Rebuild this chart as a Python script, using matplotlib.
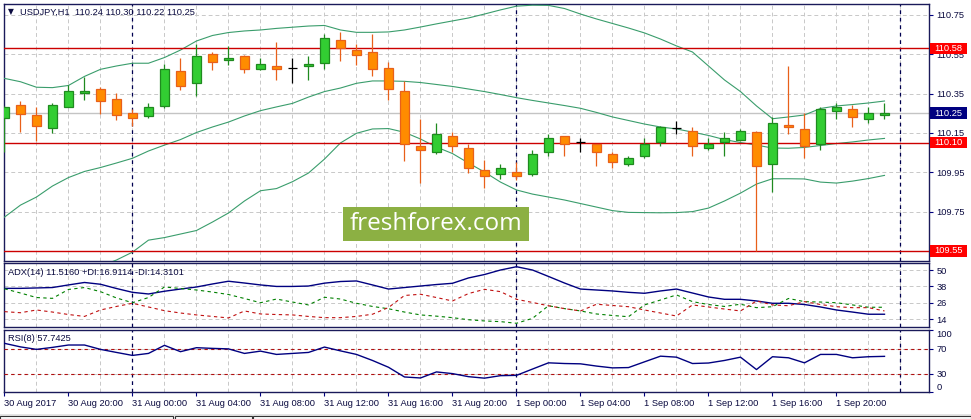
import numpy as np
import matplotlib
matplotlib.use("Agg")
import matplotlib.pyplot as plt
import matplotlib.transforms as mtransforms
from matplotlib.patches import Rectangle

plt.rcParams['font.family'] = ['Liberation Sans', 'DejaVu Sans']

# USDJPY H1 bars, 30 Aug 16:00 .. 1 Sep 23:00
opens = [110.227, 110.290, 110.239, 110.176, 110.280, 110.351, 110.372, 110.321, 110.250, 110.237,
         110.288, 110.463, 110.402, 110.551, 110.519, 110.541, 110.476, 110.490, 110.478, 110.488,
         110.507, 110.621, 110.570, 110.560, 110.478, 110.363, 110.082, 110.051, 110.133, 110.072,
         109.960, 109.939, 109.950, 109.939, 110.051, 110.133, 110.102, 110.092, 110.041, 109.990,
         110.031, 110.102, 110.173, 110.158, 110.072, 110.102, 110.112, 110.153, 109.990, 110.189,
         110.168, 110.092, 110.260, 110.270, 110.219, 110.240]
highs = [110.285, 110.312, 110.280, 110.302, 110.392, 110.436, 110.383, 110.351, 110.270, 110.300,
         110.500, 110.529, 110.602, 110.560, 110.592, 110.545, 110.532, 110.612, 110.532, 110.542,
         110.653, 110.663, 110.600, 110.653, 110.509, 110.412, 110.220, 110.199, 110.153, 110.092,
         110.011, 109.990, 110.000, 110.061, 110.143, 110.135, 110.122, 110.095, 110.051, 110.031,
         110.122, 110.183, 110.210, 110.178, 110.122, 110.153, 110.168, 110.158, 110.229, 110.488,
         110.250, 110.280, 110.300, 110.290, 110.280, 110.300]
lows = [110.053, 110.156, 110.110, 110.151, 110.280, 110.317, 110.247, 110.217, 110.187, 110.227,
        110.278, 110.370, 110.339, 110.471, 110.497, 110.453, 110.471, 110.419, 110.402, 110.419,
        110.476, 110.517, 110.497, 110.440, 110.317, 110.009, 109.897, 110.041, 110.051, 109.948,
        109.868, 109.917, 109.909, 109.929, 110.031, 110.031, 110.051, 109.980, 109.970, 109.980,
        110.021, 110.082, 110.143, 110.031, 110.061, 110.031, 110.107, 109.550, 109.848, 110.143,
        110.021, 110.061, 110.219, 110.178, 110.199, 110.220]
closes = [110.280, 110.248, 110.187, 110.290, 110.361, 110.363, 110.310, 110.239, 110.227, 110.280,
          110.473, 110.390, 110.539, 110.509, 110.529, 110.473, 110.499, 110.473, 110.478, 110.500,
          110.632, 110.580, 110.547, 110.473, 110.372, 110.092, 110.061, 110.143, 110.082, 109.970,
          109.929, 109.970, 109.929, 110.041, 110.122, 110.092, 110.102, 110.051, 110.000, 110.021,
          110.092, 110.180, 110.173, 110.082, 110.092, 110.122, 110.158, 109.980, 110.199, 110.178,
          110.082, 110.270, 110.280, 110.229, 110.250, 110.250]

# Bollinger bands
bb_upper = [110.427, 110.410, 110.382, 110.380, 110.391, 110.437, 110.473, 110.490, 110.504, 110.504,
            110.533, 110.571, 110.617, 110.645, 110.660, 110.668, 110.673, 110.681, 110.687, 110.693,
            110.696, 110.673, 110.661, 110.661, 110.663, 110.673, 110.688, 110.704, 110.719, 110.734,
            110.754, 110.775, 110.794, 110.799, 110.798, 110.782, 110.754, 110.729, 110.706, 110.683,
            110.658, 110.627, 110.592, 110.561, 110.490, 110.419, 110.360, 110.287, 110.222, 110.231,
            110.241, 110.274, 110.287, 110.294, 110.302, 110.312]
bb_middle = [109.722, 109.783, 109.824, 109.880, 109.923, 109.954, 109.974, 109.997, 110.021, 110.058,
             110.088, 110.116, 110.152, 110.180, 110.205, 110.236, 110.263, 110.282, 110.300, 110.332,
             110.360, 110.378, 110.402, 110.414, 110.414, 110.412, 110.406, 110.396, 110.386, 110.373,
             110.360, 110.345, 110.329, 110.315, 110.302, 110.289, 110.275, 110.254, 110.231, 110.213,
             110.195, 110.180, 110.170, 110.154, 110.137, 110.116, 110.101, 110.088, 110.073, 110.072,
             110.076, 110.086, 110.096, 110.104, 110.114, 110.122]
bb_lower = [109.021, 109.158, 109.265, 109.377, 109.453, 109.473, 109.473, 109.504, 109.544, 109.605,
            109.618, 109.636, 109.654, 109.697, 109.743, 109.804, 109.856, 109.867, 109.902, 109.946,
            110.017, 110.099, 110.148, 110.170, 110.172, 110.153, 110.119, 110.078, 110.045, 109.997,
            109.951, 109.900, 109.860, 109.839, 109.824, 109.809, 109.791, 109.773, 109.755, 109.746,
            109.745, 109.744, 109.745, 109.750, 109.768, 109.804, 109.844, 109.890, 109.917, 109.917,
            109.916, 109.900, 109.895, 109.905, 109.918, 109.934]

# ADX(14)
adx = [36.6, 36.6, 36.9, 37.2, 39.1, 40.9, 39.6, 36.5, 33.7, 32.5,
       34.5, 36.1, 37.6, 39.8, 41.8, 40.5, 39.1, 38.0, 38.0, 38.3,
       40.4, 41.6, 42.0, 39.1, 36.1, 37.2, 38.3, 39.4, 40.3, 44.2,
       46.7, 50.0, 52.4, 50.0, 45.3, 40.5, 36.1, 35.4, 34.7, 33.7,
       33.0, 34.7, 36.1, 33.2, 30.3, 28.6, 28.6, 27.4, 25.7, 25.7,
       24.8, 23.0, 20.8, 19.3, 17.7, 17.7]
plus_di = [36.3, 33.2, 29.9, 29.3, 35.8, 37.2, 34.2, 29.6, 26.1, 29.9,
           37.6, 36.5, 35.4, 33.9, 32.1, 29.2, 26.1, 28.8, 26.6, 24.5,
           30.1, 28.8, 25.7, 23.4, 21.7, 19.3, 17.2, 16.3, 15.2, 13.7,
           12.8, 12.3, 11.1, 14.7, 23.9, 21.8, 20.1, 17.9, 16.8, 15.9,
           24.5, 28.1, 31.8, 26.9, 24.8, 23.4, 25.0, 22.5, 23.2, 29.2,
           26.9, 26.6, 26.1, 24.5, 22.8, 22.8]
minus_di = [19.6, 18.8, 20.8, 19.3, 17.5, 16.1, 20.8, 23.4, 25.7, 23.0,
            20.3, 18.6, 17.2, 16.1, 15.0, 20.1, 17.9, 17.5, 17.2, 16.1,
            15.2, 15.2, 16.1, 17.7, 22.6, 31.4, 32.3, 29.9, 27.4, 32.8,
            35.9, 34.2, 28.6, 26.3, 23.9, 21.8, 20.1, 25.0, 24.1, 23.2,
            20.8, 18.6, 16.4, 24.5, 23.0, 21.5, 20.1, 27.4, 24.5, 23.9,
            26.9, 24.8, 23.2, 22.5, 22.5, 20.1]

# RSI(8)
rsi = [78.6, 72.9, 68.9, 72.1, 75.9, 75.9, 68.9, 64.0, 59.2, 62.4,
       75.4, 65.2, 71.6, 70.5, 69.7, 62.4, 66.1, 60.8, 62.4, 64.0,
       72.6, 66.5, 60.8, 51.1, 40.2, 24.6, 23.0, 32.7, 30.0, 25.1,
       22.7, 26.7, 27.2, 37.3, 47.3, 46.2, 45.7, 42.1, 39.2, 39.7,
       48.9, 58.0, 56.4, 46.2, 47.0, 51.1, 56.4, 36.5, 57.1, 55.4,
       47.3, 60.8, 60.8, 55.4, 57.1, 57.7]

time_labels = ["30 Aug 2017", "30 Aug 20:00", "31 Aug 00:00", "31 Aug 04:00", "31 Aug 08:00",
               "31 Aug 12:00", "31 Aug 16:00", "31 Aug 20:00", "1 Sep 00:00", "1 Sep 04:00",
               "1 Sep 08:00", "1 Sep 12:00", "1 Sep 16:00", "1 Sep 20:00"]
day_starts = [8, 32, 56]          # bar index of each midnight
price_ticks = [109.75, 109.95, 110.15, 110.35, 110.55, 110.75]
levels = [110.58, 110.10, 109.55]
last_price = 110.25
adx_ticks = [14, 26, 38, 50]
rsi_levels = [30, 70]

W, H = 971, 419
NAVY = '#000080'
TXT = '#0b0b40'
GRID = '#c8c8c8'
FS = 6.7

fig = plt.figure(figsize=(W / 100, H / 100), dpi=100)
fig.patch.set_facecolor('white')


def panel(top, bottom):
    """axes placed by pixel rows of the 971x419 canvas"""
    return fig.add_axes([3.5 / W, 1 - bottom / H, (929.3 - 3.5) / W, (bottom - top) / H])


ax = panel(4, 261)
ax_adx = panel(263.3, 326.7)
ax_rsi = panel(330, 392.3)

x = np.arange(len(opens))
n_slots = 57.8

for a in (ax, ax_adx, ax_rsi):
    a.set_xlim(-0.06, n_slots)
    a.set_axisbelow(True)
    a.set_xticks(np.arange(0, 58, 2), minor=True)
    a.grid(which='minor', axis='x', color=GRID, linestyle=(0, (4, 3)), linewidth=0.7)
    a.grid(which='major', axis='y', color=GRID, linestyle=(0, (4, 3)), linewidth=0.7)
    a.yaxis.tick_right()
    a.tick_params(axis='y', length=3, width=0.8, color=NAVY, labelcolor=TXT,
                  labelsize=FS, pad=2)
    a.tick_params(axis='x', which='minor', length=0)
    for s in a.spines.values():
        s.set_color('#1a1a5a')
        s.set_linewidth(1.0)
    for d in day_starts:
        a.axvline(d, color='#000050', linewidth=0.9, linestyle=(0, (3, 3)), zorder=2.5)

# ---- price panel
for i in x:
    o, h, l, c = opens[i], highs[i], lows[i], closes[i]
    if c > o:
        fill, edge = '#32cd32', '#1f8a1f'
    elif c < o:
        fill, edge = '#ff8c00', '#e8601a'
    else:
        fill, edge = None, 'black'
    ax.vlines(i, l, h, color=edge, linewidth=0.9, zorder=3)
    if fill is None:
        ax.hlines(o, i - 0.31, i + 0.31, color=edge, linewidth=0.9, zorder=3)
    else:
        ax.add_patch(Rectangle((i - 0.31, min(o, c)), 0.62, abs(c - o), facecolor=fill,
                               edgecolor=edge, linewidth=0.9, zorder=4))

for band in (bb_upper, bb_middle, bb_lower):
    ax.plot(x, band, color='#3a9d6c', linewidth=0.8, zorder=2.6)

ax.axhline(last_price, color='#c4c4c4', linewidth=1.0, zorder=1.8)
for lvl in levels:
    ax.axhline(lvl, color='#cc0000', linewidth=1.0, zorder=2.7)

ax.set_ylim(109.499, 110.805)
ax.set_yticks(price_ticks)
ax.set_yticklabels([f"{v:.2f}" for v in price_ticks])
ax.set_xticks([])

trans = mtransforms.blended_transform_factory(ax.transAxes, ax.transData)
box_w = 36.5 / (929.3 - 3.5)
box_h = 11.5 / 196.7
for lvl, col in [(v, '#ff0000') for v in levels] + [(last_price, NAVY)]:
    ax.add_patch(Rectangle((1.0008, lvl - box_h / 2), box_w, box_h, transform=trans,
                           facecolor=col, edgecolor='none', clip_on=False, zorder=6))
    ax.text(1.0008 + box_w / 2, lvl, f"{lvl:.2f}", transform=trans, ha='center', va='center',
            color='white', fontsize=FS, clip_on=False, zorder=7)

# ---- ADX panel
ax_adx.plot(x, adx, color=NAVY, linewidth=1.0, zorder=3)
ax_adx.plot(x, plus_di, color='#008000', linewidth=0.8, linestyle=(0, (3, 3)), zorder=3)
ax_adx.plot(x, minus_di, color='#c01010', linewidth=0.8, linestyle=(0, (3, 3)), zorder=3)
ax_adx.set_ylim(8.6, 54.9)
ax_adx.set_yticks(adx_ticks)
ax_adx.set_xticks([])

# ---- RSI panel
ax_rsi.plot(x, rsi, color=NAVY, linewidth=1.0, zorder=3)
for lv in rsi_levels:
    ax_rsi.axhline(lv, color='#b01010', linewidth=0.8, linestyle=(0, (3, 3)), zorder=2.6)
ax_rsi.set_ylim(0, 100)
ax_rsi.set_yticks([0] + rsi_levels + [100])
ylabs = ax_rsi.get_yticklabels()
ylabs[0].set_va('bottom')
ylabs[-1].set_va('top')
ax_rsi.set_xticks(np.arange(len(time_labels)) * 4)
ax_rsi.set_xticklabels(time_labels, ha='left')
ax_rsi.tick_params(axis='x', which='major', length=3, width=0.8, color=NAVY,
                   labelcolor=TXT, labelsize=FS, pad=2)

# ---- captions
fig.text(8 / W, 1 - 11.5 / H, "\u25bc", fontsize=5.5, color=TXT, va='center',
         family=['DejaVu Sans'])
fig.text(20 / W, 1 - 12 / H, "USDJPY,H1  110.24 110.30 110.22 110.25", fontsize=FS,
         color=TXT, va='center')
fig.text(8 / W, 1 - 272.3 / H, "ADX(14) 11.5160 +DI:16.9114 -DI:14.3101", fontsize=FS,
         color=TXT, va='center')
fig.text(8 / W, 1 - 338.3 / H, "RSI(8) 57.7425", fontsize=FS, color=TXT, va='center')

# watermark
fig.patches.append(Rectangle((343 / W, 1 - 240.7 / H), 186 / W, 34 / H, transform=fig.transFigure,
                             facecolor='#8cb043', edgecolor='none', zorder=10))
fig.text(436 / W, 1 - 224 / H, "freshforex.com", fontsize=17.5, color='white',
         family=['Open Sans', 'DejaVu Sans'], ha='center', va='center', zorder=11)

# window tabs along the bottom edge
fig.patches.append(Rectangle((0, 0), 1, 5 / H, transform=fig.transFigure,
                             facecolor='#e4e4e4', edgecolor='none', zorder=9))
for x0, x1 in [(0, 173), (175, 252), (253, 971)]:
    fig.patches.append(Rectangle((x0 / W, 0), (x1 - x0) / W, 3.5 / H, transform=fig.transFigure,
                                 facecolor='white', edgecolor='#333333', linewidth=0.8, zorder=9))

fig.savefig("out.png", dpi=100)
